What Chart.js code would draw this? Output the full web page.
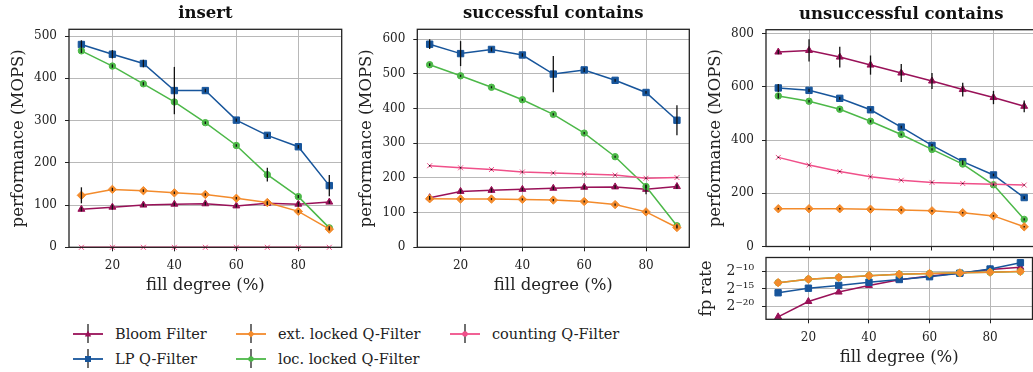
<!DOCTYPE html>
<html>
<head>
<meta charset="utf-8">
<script src="https://cdn.jsdelivr.net/npm/chart.js@4.4.1/dist/chart.umd.min.js"></script>
<style>
  body { margin: 0; width: 1033px; height: 372px; overflow: hidden; position: relative; background: #fff; font-family: 'DejaVu Serif', serif; }
  canvas { position: absolute; }
  .leg { position: absolute; display: flex; align-items: center; font-size: 14.5px; color: #222; white-space: nowrap; }
  .leg svg { margin-right: 12px; }
</style>
</head>
<body>
<canvas id="insert" width="350" height="300" style="left:0;top:0"></canvas>
<canvas id="success" width="350" height="300" style="left:348px;top:0"></canvas>
<canvas id="unsuccess" width="345" height="252" style="left:697px;top:0"></canvas>
<canvas id="fprate" width="350" height="120" style="left:688px;top:252px"></canvas>
<div id="legend"></div>
<script>
// x values and ticks
const fill = [10, 20, 30, 40, 50, 60, 70, 80, 90];
const fillTicks = [20, 40, 60, 80];
const seriesNames = ['Bloom Filter', 'LP Q-Filter', 'ext. locked Q-Filter', 'loc. locked Q-Filter', 'counting Q-Filter'];

// insert (MOPS) and error half-widths
const insertBloom = [90, 95, 100, 102, 103, 98, 104, 102, 107];
const insertBloomErr = [5, 6, 4, 4, 4, 4, 4, 6, 4];
const insertLP = [480, 457, 435, 371, 371, 301, 265, 238, 146];
const insertLPErr = [10, 10, 9, 56, 4, 4, 4, 4, 25];
const insertExt = [123, 137, 134, 129, 125, 116, 106, 85, 43];
const insertExtErr = [19, 4, 3, 3, 3, 3, 3, 3, 3];
const insertLoc = [465, 429, 387, 344, 295, 241, 172, 120, 46];
const insertLocErr = [5, 4, 4, 4, 3, 3, 16, 4, 4];
const insertCounting = [0, 0, 0, 0, 0, 0, 0, 0, 0];
const insertCountingErr = [0, 0, 0, 0, 0, 0, 0, 0, 0];

// successful contains
const succBloom = [143, 161, 164, 167, 170, 173, 174, 167, 175];
const succBloomErr = [5, 6, 6, 5, 5, 6, 5, 14, 6];
const succLP = [585, 558, 570, 554, 499, 511, 481, 446, 366];
const succLPErr = [14, 36, 6, 5, 52, 6, 4, 4, 43];
const succExt = [140, 139, 139, 138, 136, 132, 123, 102, 57];
const succExtErr = [3, 3, 3, 3, 3, 3, 3, 3, 3];
const succLoc = [526, 494, 461, 425, 383, 329, 261, 175, 62];
const succLocErr = [4, 3, 3, 3, 3, 3, 3, 4, 4];
const succCounting = [235, 229, 224, 217, 214, 211, 208, 199, 201];
const succCountingErr = [2, 2, 2, 2, 2, 2, 2, 2, 2];

// unsuccessful contains
const unsuccBloom = [731, 737, 712, 682, 652, 622, 590, 560, 527];
const unsuccBloomErr = [8, 42, 39, 36, 34, 30, 26, 25, 22];
const unsuccLP = [596, 587, 557, 514, 449, 380, 319, 269, 184];
const unsuccLPErr = [15, 6, 5, 5, 5, 5, 5, 5, 5];
const unsuccExt = [142, 142, 142, 140, 137, 134, 127, 115, 74];
const unsuccExtErr = [3, 3, 3, 3, 3, 3, 3, 3, 3];
const unsuccLoc = [566, 546, 516, 471, 421, 365, 310, 232, 102];
const unsuccLocErr = [10, 5, 5, 5, 4, 4, 4, 4, 4];
const unsuccCounting = [335, 306, 282, 262, 249, 241, 237, 234, 231];
const unsuccCountingErr = [2, 2, 2, 2, 2, 2, 2, 2, 2];

// false positive rate, log2 exponents
const fpBloom = [-23.0, -18.6, -15.9, -14.0, -12.4, -11.3, -10.5, -9.45, -8.8];
const fpLP = [-16.1, -14.8, -14.0, -13.1, -12.3, -11.5, -10.5, -9.3, -7.5];
const fpExt = [-13.2, -12.2, -11.7, -11.2, -10.8, -10.6, -10.4, -10.2, -10.0];
const fpLoc = [-13.2, -12.2, -11.7, -11.2, -10.8, -10.6, -10.4, -10.2, -10.0];
const fpTicks = [-20, -15, -10];

const insertTicks = [0, 100, 200, 300, 400, 500];
const succTicks = [0, 100, 200, 300, 400, 500, 600];
const unsuccTicks = [0, 200, 400, 600, 800];

// styles, drawn top-most first
const styleOf = {
    'counting Q-Filter': { color: '#f0508a', point: 'crossRot', radius: 3.5, order: 0 },
    'ext. locked Q-Filter': { color: '#f38b2c', point: 'rectRot', radius: 4.2, order: 1 },
    'loc. locked Q-Filter': { color: '#4cb848', point: 'circle', radius: 3.2, order: 2 },
    'LP Q-Filter': { color: '#17559b', point: 'rect', radius: 4.5, order: 3 },
    'Bloom Filter': { color: '#991158', point: 'triangle', radius: 4, order: 4 },
};

const ink = '#222';
Chart.defaults.font.family = "'DejaVu Serif', serif";
Chart.defaults.color = ink;

function series(label, values, errors) {
    const st = styleOf[label];
    return {
        label: label,
        data: fill.map((x, i) => ({ x: x, y: values[i] })),
        errors: errors,
        borderColor: st.color,
        backgroundColor: st.color,
        pointBackgroundColor: st.color,
        pointBorderColor: st.color,
        pointStyle: st.point,
        pointRadius: st.radius,
        pointBorderWidth: 1,
        borderWidth: 1.5,
        order: st.order,
        clip: false,
    };
}

const errorBars = {
    id: 'errorBars',
    afterDatasetsDraw(chart) {
        const ctx = chart.ctx;
        const xs = chart.scales.x, ys = chart.scales.y;
        ctx.save();
        ctx.strokeStyle = '#111';
        ctx.lineWidth = 1.3;
        chart.data.datasets.forEach(ds => {
            if (!ds.errors) return;
            ds.data.forEach((p, i) => {
                const e = ds.errors[i];
                if (!e) return;
                const px = xs.getPixelForValue(p.x);
                ctx.beginPath();
                ctx.moveTo(px, ys.getPixelForValue(p.y - e));
                ctx.lineTo(px, ys.getPixelForValue(p.y + e));
                ctx.stroke();
            });
        });
        ctx.restore();
    }
};

const frame = {
    id: 'frame',
    afterDraw(chart) {
        const a = chart.chartArea;
        const ctx = chart.ctx;
        ctx.save();
        ctx.strokeStyle = ink;
        ctx.lineWidth = 1.3;
        ctx.strokeRect(a.left, a.top, a.right - a.left, a.bottom - a.top);
        ctx.restore();
    }
};

function xScale(showLabels, height) {
    return {
        type: 'linear', min: 6, max: 94,
        afterBuildTicks: s => { s.ticks = fillTicks.map(v => ({ value: v })); },
        afterFit: s => { s.height = height; s.paddingLeft = 0; s.paddingRight = 0; },
        grid: { color: '#b8b8b8', lineWidth: 1, tickLength: 4, tickColor: ink },
        border: { display: false },
        ticks: { display: showLabels, padding: 7, maxRotation: 0, font: { size: 12 }, color: ink },
        title: { display: showLabels, text: 'fill degree (%)', font: { size: 16.5 }, color: ink, padding: { top: 0, bottom: 4.1 } },
    };
}

function yScale(min, max, ticks, label, width, fmt, tickSize) {
    return {
        type: 'linear', min: min, max: max,
        afterBuildTicks: s => { s.ticks = ticks.map(v => ({ value: v })); },
        afterFit: s => { s.width = width; s.paddingTop = 0; s.paddingBottom = 0; },
        grid: { color: '#b8b8b8', lineWidth: 1, tickLength: 4, tickColor: ink },
        border: { display: false },
        ticks: { padding: 8, font: { size: tickSize || 12 }, color: ink, callback: fmt || (v => v) },
        title: { display: true, text: label, font: { size: 16.5 }, color: ink, padding: { top: 9.1, bottom: 0 } },
    };
}

function makeChart(id, title, datasets, x, y, padding) {
    new Chart(document.getElementById(id), {
        type: 'line',
        data: { datasets: datasets },
        options: {
            responsive: false,
            animation: false,
            devicePixelRatio: 1,
            layout: { padding: padding },
            plugins: {
                legend: { display: false },
                tooltip: { enabled: false },
                title: {
                    display: !!title, text: title, fullSize: false, color: '#111',
                    font: { size: 16.5, weight: 'bold' }, padding: { top: 4, bottom: 5.5 },
                },
            },
            scales: { x: x, y: y },
        },
        plugins: [errorBars, frame],
    });
}

makeChart('insert', 'insert', [
    series('counting Q-Filter', insertCounting, insertCountingErr),
    series('ext. locked Q-Filter', insertExt, insertExtErr),
    series('loc. locked Q-Filter', insertLoc, insertLocErr),
    series('LP Q-Filter', insertLP, insertLPErr),
    series('Bloom Filter', insertBloom, insertBloomErr),
], xScale(true, 52.7), yScale(0, 516, insertTicks, 'performance (MOPS)', 69),
    { left: 0, right: 8.3, top: 0, bottom: 0 });

makeChart('success', 'successful contains', [
    series('counting Q-Filter', succCounting, succCountingErr),
    series('ext. locked Q-Filter', succExt, succExtErr),
    series('loc. locked Q-Filter', succLoc, succLocErr),
    series('LP Q-Filter', succLP, succLPErr),
    series('Bloom Filter', succBloom, succBloomErr),
], xScale(true, 52.7), yScale(0, 628, succTicks, 'performance (MOPS)', 69.3),
    { left: 0, right: 8.7, top: 0, bottom: 0 });

makeChart('unsuccess', 'unsuccessful contains', [
    series('counting Q-Filter', unsuccCounting, unsuccCountingErr),
    series('ext. locked Q-Filter', unsuccExt, unsuccExtErr),
    series('loc. locked Q-Filter', unsuccLoc, unsuccLocErr),
    series('LP Q-Filter', unsuccLP, unsuccLPErr),
    series('Bloom Filter', unsuccBloom, unsuccBloomErr),
], xScale(false, 4.7), yScale(0, 815, unsuccTicks, 'performance (MOPS)', 69),
    { left: 0, right: 5, top: 0.4, bottom: 0 });

const sup = { '-': '\u207B', '0': '\u2070', '1': '\u00B9', '2': '\u00B2', '5': '\u2075' };
const pow2 = v => '2' + String(v).split('').map(c => sup[c]).join('');

makeChart('fprate', '', [
    series('ext. locked Q-Filter', fpExt, null),
    series('loc. locked Q-Filter', fpLoc, null),
    series('LP Q-Filter', fpLP, null),
    series('Bloom Filter', fpBloom, null),
], xScale(true, 52.7), yScale(-23.7, -6, fpTicks, 'fp rate', 78, pow2, 14),
    { left: 0, right: 1, top: 2.7, bottom: 0 });

// legend, column-major like the original
const legendPos = [
    { left: 73, top: 334 }, { left: 73, top: 359 },
    { left: 236, top: 334 }, { left: 236, top: 359 },
    { left: 450, top: 334 },
];
function markerSvg(st) {
    const c = st.color, cx = 15, cy = 11;
    let m = '';
    if (st.point === 'triangle') m = `<polygon points="${cx},${cy - 3.5} ${cx + 3.2},${cy + 2.5} ${cx - 3.2},${cy + 2.5}" fill="${c}"/>`;
    else if (st.point === 'rect') m = `<rect x="${cx - 3}" y="${cy - 3}" width="6" height="6" fill="${c}"/>`;
    else if (st.point === 'rectRot') m = `<polygon points="${cx},${cy - 3.5} ${cx + 3.5},${cy} ${cx},${cy + 3.5} ${cx - 3.5},${cy}" fill="${c}"/>`;
    else m = `<circle cx="${cx}" cy="${cy}" r="2.7" fill="${c}"/>`;
    return `<svg width="30" height="22" viewBox="0 0 30 22"><line x1="0" y1="${cy}" x2="30" y2="${cy}" stroke="${c}" stroke-width="1.8"/>` +
        `<line x1="${cx}" y1="1" x2="${cx}" y2="20" stroke="#222" stroke-width="1.3"/>${m}</svg>`;
}
const legendEl = document.getElementById('legend');
seriesNames.forEach((name, i) => {
    const d = document.createElement('div');
    d.className = 'leg';
    d.style.left = legendPos[i].left + 'px';
    d.style.top = (legendPos[i].top - 11) + 'px';
    d.innerHTML = markerSvg(styleOf[name]) + '<span>' + name + '</span>';
    legendEl.appendChild(d);
});
</script>
</body>
</html>
